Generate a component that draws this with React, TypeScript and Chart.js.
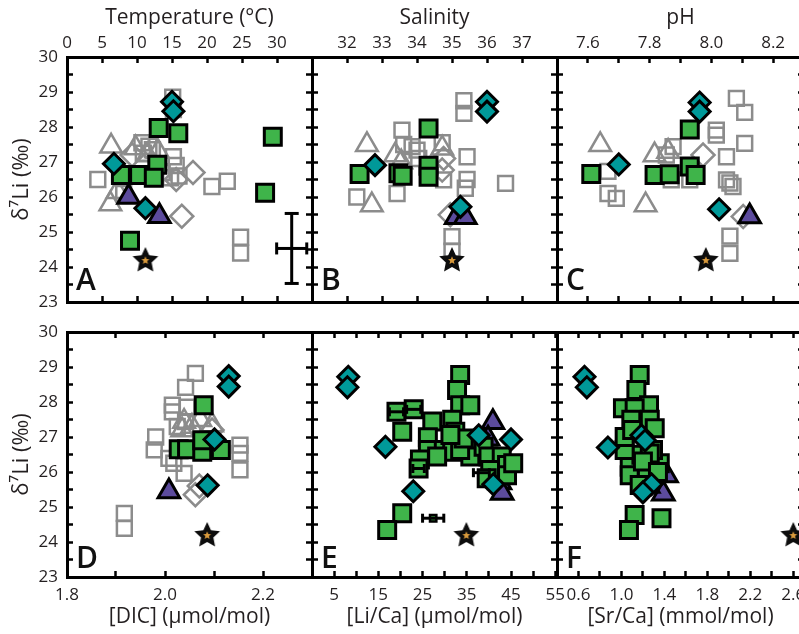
import React, { useEffect, useRef } from 'react';
import { Chart, registerables } from 'chart.js';

Chart.register(...registerables);

type P = [number, number];
type Bar = [number, number, number, number]; // x, y, xErr, yErr

// ---------- shared y axis (δ7Li) ----------
const liTicks = [23, 23.5, 24, 24.5, 25, 25.5, 26, 26.5, 27, 27.5, 28, 28.5, 29, 29.5, 30];
const liLabels = ['23', '', '24', '', '25', '', '26', '', '27', '', '28', '', '29', '', '30'];

// ---------- x tick values / labels ----------
const tempTicks = [0, 5, 10, 15, 20, 25, 30, 35];
const tempLabels = ['0', '5', '10', '15', '20', '25', '30', ''];
const salTicks = [31, 32, 33, 34, 35, 36, 37, 38];
const salLabels = ['', '32', '33', '34', '35', '36', '37', ''];
const phTicks = [7.5, 7.6, 7.7, 7.8, 7.9, 8.0, 8.1, 8.2, 8.3];
const phLabels = ['', '7.6', '', '7.8', '', '8.0', '', '8.2', ''];
const dicTicks = [1.8, 1.9, 2.0, 2.1, 2.2, 2.3];
const dicLabels = ['1.8', '', '2.0', '', '2.2', ''];
const licaTicks = [0, 5, 10, 15, 20, 25, 30, 35, 40, 45, 50, 55];
const licaLabels = ['', '5', '', '15', '', '25', '', '35', '', '45', '', '55'];
const srcaTicks = [0.4, 0.6, 0.8, 1.0, 1.2, 1.4, 1.6, 1.8, 2.0, 2.2, 2.4, 2.6];
const srcaLabels = ['', '0.6', '', '1.0', '', '1.4', '', '1.8', '', '2.2', '', '2.6'];

// ---------- Panel A : Temperature ----------
const tempGraySquares: P[] = [[15.1, 28.85], [15.2, 28.5], [10.7, 27.55], [11.7, 27.45], [10.9, 27.25], [12.2, 27.35], [4.4, 26.5], [15.2, 27.15], [15.6, 26.9], [14.8, 26.55], [16.0, 26.6], [20.7, 26.3], [22.9, 26.45], [24.8, 24.85], [24.8, 24.4], [8.1, 26.1], [13.6, 26.7]];
const tempGrayTriangles: P[] = [[6.3, 27.45], [9.8, 27.4], [11.5, 27.2], [6.2, 25.8], [7.2, 26.15], [13.0, 27.3]];
const tempGrayDiamonds: P[] = [[9.3, 27.2], [18.0, 26.7], [16.4, 25.45], [15.6, 26.5]];
const tempGreen: P[] = [[13.1, 27.97], [15.9, 27.82], [29.4, 27.72], [12.9, 26.92], [7.7, 26.63], [10.3, 26.63], [12.4, 26.55], [28.3, 26.12], [9.0, 24.75]];
const tempTeal: P[] = [[15.0, 28.72], [15.2, 28.45], [6.7, 26.95], [11.2, 25.68]];
const tempPurple: P[] = [[8.8, 26.0], [13.2, 25.45]];
const tempStar: P[] = [[11.2, 24.2]];
const tempErrorBar: Bar[] = [[32.1, 24.53, 2.15, 1.0]];

// ---------- Panel B : Salinity ----------
const salGraySquares: P[] = [[35.34, 28.75], [35.34, 28.39], [33.57, 27.91], [33.62, 27.5], [33.86, 27.44], [34.0, 27.34], [34.72, 27.55], [35.43, 27.15], [35.43, 26.5], [35.38, 26.25], [34.76, 26.49], [36.53, 26.39], [32.28, 26.0], [33.43, 26.1], [35.0, 24.87], [35.0, 24.45], [34.05, 27.1]];
const salGrayTriangles: P[] = [[32.57, 27.49], [32.71, 25.77], [33.38, 27.2], [34.72, 27.39], [33.55, 27.0]];
const salGrayDiamonds: P[] = [[34.76, 27.1], [34.95, 25.49], [34.72, 26.77]];
const salGreen: P[] = [[34.33, 27.96], [32.36, 26.66], [33.47, 26.68], [33.59, 26.61], [34.33, 26.89], [34.33, 26.58]];
const salTeal: P[] = [[36.0, 28.72], [36.0, 28.44], [32.8, 26.91], [35.24, 25.72]];
const salPurple: P[] = [[35.12, 25.42], [35.38, 25.42]];
const salStar: P[] = [[35.0, 24.2]];

// ---------- Panel C : pH ----------
const phGraySquares: P[] = [[8.081, 28.82], [8.108, 28.42], [8.016, 27.91], [8.016, 27.77], [8.108, 27.53], [8.049, 27.15], [7.876, 27.44], [7.854, 27.2], [7.87, 26.49], [7.93, 26.49], [8.049, 26.49], [8.07, 26.3], [8.06, 26.4], [7.665, 26.1], [7.692, 25.96], [7.665, 26.73], [8.06, 24.88], [8.06, 24.39]];
const phGrayTriangles: P[] = [[7.64, 27.49], [7.787, 25.77], [7.816, 27.2], [7.86, 27.3]];
const phGrayDiamonds: P[] = [[7.973, 27.2], [8.103, 25.44]];
const phGreen: P[] = [[7.93, 27.93], [7.611, 26.66], [7.816, 26.63], [7.865, 26.65], [7.93, 26.87], [7.949, 26.63]];
const phTeal: P[] = [[7.962, 28.7], [7.962, 28.44], [7.70, 26.93], [8.025, 25.65]];
const phPurple: P[] = [[8.124, 25.44]];
const phStar: P[] = [[7.982, 24.2]];

// ---------- Panel D : DIC ----------
const dicGraySquares: P[] = [[2.062, 28.82], [2.042, 28.42], [2.015, 27.91], [2.045, 27.85], [2.015, 27.72], [2.042, 27.44], [2.025, 27.3], [1.981, 27.0], [1.978, 26.63], [2.008, 26.39], [2.018, 26.25], [2.039, 25.96], [2.153, 26.77], [2.153, 26.53], [2.153, 26.06], [1.917, 24.82], [1.917, 24.39]];
const dicGrayTriangles: P[] = [[2.039, 27.44], [2.072, 27.49], [2.096, 27.34], [2.055, 27.3], [2.035, 27.2]];
const dicGrayDiamonds: P[] = [[2.062, 25.35], [2.096, 27.2], [2.07, 25.6]];
const dicGreen: P[] = [[2.079, 27.91], [2.028, 26.65], [2.045, 26.65], [2.076, 26.58], [2.076, 26.91], [2.114, 26.63]];
const dicTeal: P[] = [[2.13, 28.74], [2.13, 28.44], [2.101, 26.93], [2.087, 25.62]];
const dicPurple: P[] = [[2.008, 25.44]];
const dicStar: P[] = [[2.086, 24.2]];

// ---------- Panel E : Li/Ca ----------
const licaGreen: P[] = [[33.5, 28.77], [32.8, 28.34], [33.5, 27.91], [35.8, 27.91], [19.1, 27.72], [23.0, 27.79], [20.4, 27.15], [27.2, 27.44], [31.7, 27.49], [32.4, 27.15], [26.2, 26.99], [26.2, 26.63], [29.8, 26.63], [31.7, 26.58], [35.0, 26.77], [35.8, 26.44], [38.8, 26.72], [39.9, 26.44], [42.9, 26.44], [24.4, 26.36], [24.1, 26.1], [40.3, 26.06], [44.1, 26.2], [44.1, 25.91], [20.4, 24.82], [17.0, 24.34], [28.3, 26.44], [33.5, 26.63], [34.3, 26.96], [31.3, 27.06], [39.5, 25.82], [45.5, 26.25]];
const licaSmallGreen: P[] = [[27.4, 24.68]];
const licaTeal: P[] = [[8.2, 28.72], [8.0, 28.42], [16.6, 26.72], [22.9, 25.45], [37.7, 27.05], [45.0, 26.93], [41.0, 25.65]];
const licaPurple: P[] = [[40.9, 27.42], [39.8, 26.95], [42.5, 25.7], [43.0, 25.4]];
const licaStar: P[] = [[34.9, 24.2]];
const licaErrorBars: Bar[] = [[19.1, 27.72, 1.6, 0], [23.0, 27.79, 1.6, 0], [24.1, 26.1, 1.3, 0], [27.4, 24.68, 2.4, 0], [38.3, 25.98, 1.8, 0]];

// ---------- Panel F : Sr/Ca ----------
const srcaGreen: P[] = [[1.17, 28.77], [1.139, 28.34], [1.257, 27.91], [1.014, 27.82], [1.123, 27.82], [1.092, 27.49], [1.264, 27.49], [1.357, 26.25], [1.217, 26.06], [1.077, 26.15], [1.077, 25.91], [1.186, 26.49], [1.123, 24.77], [1.07, 24.34], [1.373, 24.68], [1.03, 26.63], [1.03, 27.0], [1.294, 26.63], [1.31, 27.25], [1.17, 25.63], [1.264, 26.53], [1.1, 27.2], [1.2, 26.3], [1.34, 26.0]];
const srcaTeal: P[] = [[0.656, 28.72], [0.678, 28.42], [0.874, 26.7], [1.186, 27.05], [1.22, 26.9], [1.28, 25.65], [1.2, 25.42]];
const srcaPurple: P[] = [[1.06, 27.1], [1.42, 25.9], [1.39, 25.38], [1.25, 25.6]];
const srcaStar: P[] = [[2.6, 24.2]];

// ---------- styling ----------
const FONT = "'Open Sans', 'DejaVu Sans', sans-serif";
const TEXT = '#231f20';
const GREEN = '#3fb44a';
const TEAL = '#009999';
const PURPLE = '#5c4b9d';
const GRAY = '#8c8c8c';
const NONE = 'rgba(0,0,0,0)';

const COLS = [{ left: 67, width: 245 }, { left: 312, width: 245 }, { left: 557, width: 247 }];
const ROWS = [{ top: 57, height: 245 }, { top: 332, height: 245 }];

interface Panel {
  letter: string;
  col: number;
  row: number;
  xMin: number;
  xMax: number;
  xTicks: number[];
  xLabels: string[];
  xTitle: string;
  graySq: P[];
  grayTri: P[];
  grayDia: P[];
  green: P[];
  small: P[];
  teal: P[];
  purple: P[];
  star: P[];
  bars: Bar[];
}

const panels: Panel[] = [
  { letter: 'A', col: 0, row: 0, xMin: 0, xMax: 35, xTicks: tempTicks, xLabels: tempLabels, xTitle: 'Temperature (°C)', graySq: tempGraySquares, grayTri: tempGrayTriangles, grayDia: tempGrayDiamonds, green: tempGreen, small: [], teal: tempTeal, purple: tempPurple, star: tempStar, bars: tempErrorBar },
  { letter: 'B', col: 1, row: 0, xMin: 31, xMax: 38, xTicks: salTicks, xLabels: salLabels, xTitle: 'Salinity', graySq: salGraySquares, grayTri: salGrayTriangles, grayDia: salGrayDiamonds, green: salGreen, small: [], teal: salTeal, purple: salPurple, star: salStar, bars: [] },
  { letter: 'C', col: 2, row: 0, xMin: 7.5, xMax: 8.3, xTicks: phTicks, xLabels: phLabels, xTitle: 'pH', graySq: phGraySquares, grayTri: phGrayTriangles, grayDia: phGrayDiamonds, green: phGreen, small: [], teal: phTeal, purple: phPurple, star: phStar, bars: [] },
  { letter: 'D', col: 0, row: 1, xMin: 1.8, xMax: 2.3, xTicks: dicTicks, xLabels: dicLabels, xTitle: '[DIC] (µmol/mol)', graySq: dicGraySquares, grayTri: dicGrayTriangles, grayDia: dicGrayDiamonds, green: dicGreen, small: [], teal: dicTeal, purple: dicPurple, star: dicStar, bars: [] },
  { letter: 'E', col: 1, row: 1, xMin: 0, xMax: 55.4, xTicks: licaTicks, xLabels: licaLabels, xTitle: '[Li/Ca] (µmol/mol)', graySq: [], grayTri: [], grayDia: [], green: licaGreen, small: licaSmallGreen, teal: licaTeal, purple: licaPurple, star: licaStar, bars: licaErrorBars },
  { letter: 'F', col: 2, row: 1, xMin: 0.4, xMax: 2.7, xTicks: srcaTicks, xLabels: srcaLabels, xTitle: '[Sr/Ca] (mmol/mol)', graySq: [], grayTri: [], grayDia: [], green: srcaGreen, small: [], teal: srcaTeal, purple: srcaPurple, star: srcaStar, bars: [] },
];

function geometry(p: Panel) {
  const col = COLS[p.col];
  const row = ROWS[p.row];
  const axTop = p.row === 0 ? 57 : 12;
  const axBottom = p.row === 0 ? 12 : 57;
  const axLeft = p.col === 0 ? 67 : 12;
  const axRight = 12;
  return {
    col, row, axTop, axBottom, axLeft, axRight,
    left: col.left - axLeft,
    top: row.top - axTop,
    width: axLeft + col.width + axRight,
    height: axTop + row.height + axBottom,
  };
}

function makeStar(): HTMLCanvasElement {
  const c = document.createElement('canvas');
  c.width = 30;
  c.height = 30;
  const g = c.getContext('2d')!;
  const path = (R: number, r: number) => {
    g.beginPath();
    for (let i = 0; i < 10; i++) {
      const a = -Math.PI / 2 + (i * Math.PI) / 5;
      const rad = i % 2 === 0 ? R : r;
      g.lineTo(15 + rad * Math.cos(a), 15.5 + rad * Math.sin(a));
    }
    g.closePath();
  };
  path(13.5, 6.5);
  g.fillStyle = '#0d0d0d';
  g.fill();
  path(4.2, 1.9);
  g.fillStyle = '#d99a3c';
  g.fill();
  return c;
}

const tickGrid = {
  display: true,
  drawOnChartArea: false,
  drawTicks: true,
  tickLength: -6,
  tickWidth: 2.5,
  tickColor: '#000',
  color: '#000',
};
const axisBorder = { display: true, width: 3, color: '#000' };

function axis(opts: {
  position: string; min: number; max: number; ticks: number[]; labels: string[];
  size: number; showLabels: boolean; padding: number; title?: any;
}) {
  const horizontal = opts.position === 'top' || opts.position === 'bottom';
  return {
    type: 'linear',
    position: opts.position,
    min: opts.min,
    max: opts.max,
    afterBuildTicks: (s: any) => { s.ticks = opts.ticks.map((v) => ({ value: v })); },
    afterFit: (s: any) => {
      if (horizontal) s.height = opts.size; else s.width = opts.size;
      s.paddingTop = 0;
      s.paddingBottom = 0;
      s.paddingLeft = 0;
      s.paddingRight = 0;
    },
    ticks: {
      display: opts.showLabels,
      autoSkip: false,
      maxRotation: 0,
      minRotation: 0,
      padding: opts.padding,
      color: TEXT,
      font: { family: FONT, size: 17 },
      callback: (_v: any, i: number) => opts.labels[i] ?? '',
    },
    grid: tickGrid,
    border: axisBorder,
    title: opts.title ?? { display: false },
  };
}

function buildConfig(p: Panel, starImg: HTMLCanvasElement): any {
  const g = geometry(p);
  const isTop = p.row === 0;
  const xpu = g.col.width / (p.xMax - p.xMin);
  const ypu = g.row.height / 7;
  const xy = (a: P[]) => a.map(([x, y]) => ({ x, y }));
  const markers = (data: P[], style: any, radius: number, fill: string, stroke: string, width: number, order: number) => ({
    data: xy(data), pointStyle: style, pointRadius: radius, pointHoverRadius: radius,
    pointBackgroundColor: fill, pointBorderColor: stroke, pointBorderWidth: width,
    pointHoverBorderWidth: width, showLine: false, order, clip: false,
  });
  const datasets: any[] = [
    markers(p.star, starImg, 12, '#000', '#000', 0, 0),
    markers(p.teal, 'rectRot', 10.5, TEAL, '#000', 3, 1),
    markers(p.green, 'rect', 12, GREEN, '#000', 3, 2),
    markers(p.small, 'rect', 4.5, GREEN, '#000', 2.5, 2),
    markers(p.purple, 'triangle', 12.5, PURPLE, '#000', 3, 3),
    markers(p.grayTri, 'triangle', 12.5, NONE, GRAY, 2.5, 4),
    markers(p.grayDia, 'rectRot', 11.5, NONE, GRAY, 2.5, 5),
    markers(p.graySq, 'rect', 10.5, NONE, GRAY, 2.5, 6),
  ];
  const bigCaps = p.letter === 'A';
  const capX = (bigCaps ? 7 : 4) / xpu;
  const capY = (bigCaps ? 6 : 4.5) / ypu;
  const seg = (a: P, b: P) => ({
    data: xy([a, b]), showLine: true, borderColor: '#000', borderWidth: 3,
    pointRadius: 0, pointHoverRadius: 0, order: 1.5, clip: false, fill: false,
  });
  for (const [x, y, xe, ye] of p.bars) {
    if (ye > 0) {
      datasets.push(seg([x, y - ye], [x, y + ye]));
      datasets.push(seg([x - capX, y - ye], [x + capX, y - ye]));
      datasets.push(seg([x - capX, y + ye], [x + capX, y + ye]));
    }
    if (xe > 0) {
      datasets.push(seg([x - xe, y], [x + xe, y]));
      datasets.push(seg([x - xe, y - capY], [x - xe, y + capY]));
      datasets.push(seg([x + xe, y - capY], [x + xe, y + capY]));
    }
  }

  const xTitle = {
    display: true, text: p.xTitle, color: TEXT, font: { family: FONT, size: 21 },
    padding: isTop ? { top: 5, bottom: 0 } : { top: 0, bottom: 4 },
  };
  const yTitle = {
    display: true, text: 'δ⁷Li (‰)', color: TEXT, font: { family: FONT, size: 22 },
    padding: { top: 9, bottom: 0 },
  };

  const letterPlugin = {
    id: 'panelLetter',
    afterDatasetsDraw(chart: any) {
      const { ctx, chartArea } = chart;
      ctx.save();
      ctx.font = `600 30px ${FONT}`;
      ctx.fillStyle = '#111';
      ctx.textAlign = 'left';
      ctx.textBaseline = 'alphabetic';
      ctx.fillText(p.letter, chartArea.left + 9, chartArea.bottom - (isTop ? 12 : 9));
      ctx.restore();
    },
  };

  return {
    type: 'scatter',
    data: { datasets },
    options: {
      animation: false,
      responsive: false,
      maintainAspectRatio: false,
      events: [],
      layout: { padding: 0, autoPadding: false },
      plugins: { legend: { display: false }, tooltip: { enabled: false }, title: { display: false } },
      scales: {
        x: axis({ position: isTop ? 'top' : 'bottom', min: p.xMin, max: p.xMax, ticks: p.xTicks, labels: p.xLabels, size: isTop ? g.axTop : g.axBottom, showLabels: true, padding: isTop ? 10 : 14, title: xTitle }),
        x2: axis({ position: isTop ? 'bottom' : 'top', min: p.xMin, max: p.xMax, ticks: p.xTicks, labels: [], size: isTop ? g.axBottom : g.axTop, showLabels: false, padding: 0 }),
        y: axis({ position: 'left', min: 23, max: 30, ticks: liTicks, labels: liLabels, size: g.axLeft, showLabels: p.col === 0, padding: 15, title: p.col === 0 ? yTitle : undefined }),
        y2: axis({ position: 'right', min: 23, max: 30, ticks: liTicks, labels: [], size: g.axRight, showLabels: false, padding: 0 }),
      },
    },
    plugins: [letterPlugin],
  };
}

function PanelChart({ p }: { p: Panel }) {
  const ref = useRef<HTMLCanvasElement>(null);
  const g = geometry(p);
  useEffect(() => {
    if (!ref.current) return;
    const chart = new Chart(ref.current, buildConfig(p, makeStar()));
    return () => chart.destroy();
  }, [p]);
  return (
    <canvas
      ref={ref}
      width={g.width}
      height={g.height}
      style={{ position: 'absolute', left: g.left, top: g.top, width: g.width, height: g.height }}
    />
  );
}

export default function App() {
  return (
    <div style={{ position: 'absolute', left: 0, top: 0, width: 799, height: 634, overflow: 'hidden', background: '#fff' }}>
      {panels.map((p) => (
        <PanelChart key={p.letter} p={p} />
      ))}
    </div>
  );
}
